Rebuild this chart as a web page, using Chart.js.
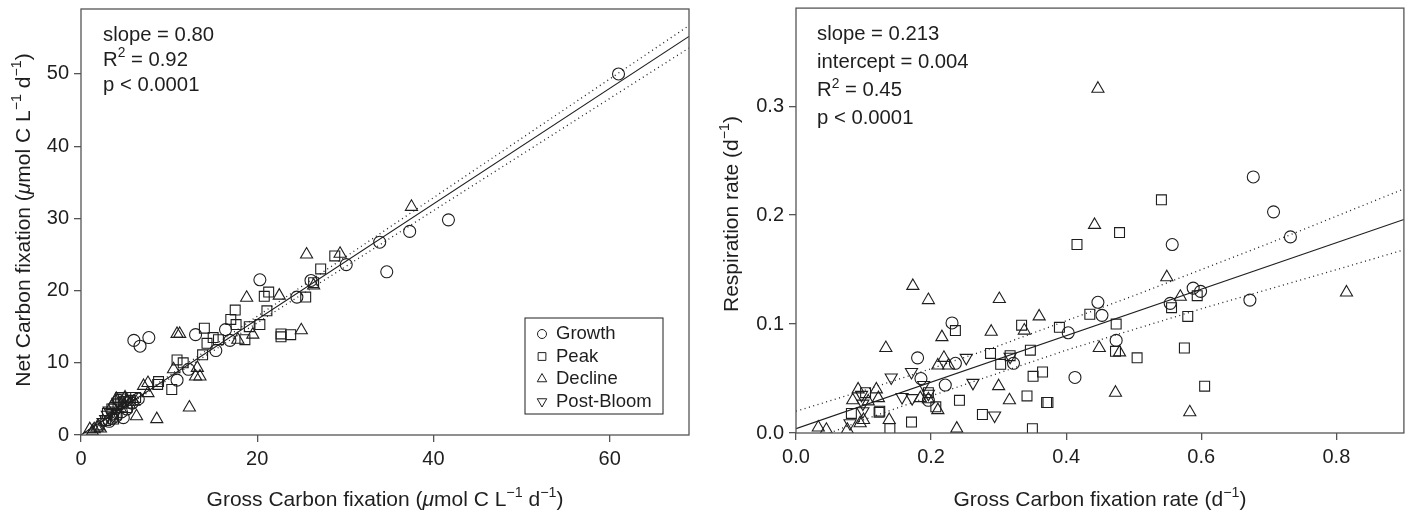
<!DOCTYPE html>
<html>
<head>
<meta charset="utf-8">
<script src="https://cdn.jsdelivr.net/npm/chart.js@4.4.1/dist/chart.umd.min.js"></script>
<style>
  body { margin: 0; background: #fff; }
  #wrap { display: flex; width: 1412px; height: 512px; }
  canvas { display: block; }
</style>
</head>
<body>
<div id="wrap">
  <canvas id="left" width="706" height="512"></canvas>
  <canvas id="right" width="706" height="512"></canvas>
</div>
<script>
// ---- left panel: net vs gross carbon fixation ----
const leftGrowth = [[61.0,50.0],[41.7,29.8],[37.3,28.2],[33.9,26.7],[34.7,22.6],[30.1,23.6],[26.1,21.4],[24.5,19.1],
  [20.3,21.5],[16.4,14.6],[16.9,13.1],[15.3,11.7],[13.0,13.9],[12.2,9.1],[10.9,7.6],[6.0,13.1],[6.7,12.3],[7.7,13.5],
  [3.5,2.3],[4.0,2.6],[4.6,3.2],[5.2,3.6],[5.8,4.4],[4.3,4.8],[6.5,5.0],[3.2,1.9],[4.8,2.4]];
const leftPeak = [[28.8,24.8],[27.2,23.0],[26.4,21.1],[25.5,19.1],[21.3,19.8],[20.8,19.2],[21.1,17.2],[17.5,17.3],
  [17.0,16.0],[17.6,15.3],[19.1,15.0],[20.3,15.3],[22.7,14.0],[22.7,13.6],[23.8,13.9],[18.6,13.2],[14.0,14.8],
  [14.3,12.7],[15.6,13.2],[15.0,13.5],[13.8,11.1],[10.9,10.4],[11.6,10.0],[10.3,6.3],[8.8,7.4],[8.7,7.0],
  [3.0,3.0],[3.5,3.6],[4.0,2.8],[4.2,4.2],[4.8,4.6],[5.2,3.8],[5.6,4.8],[6.2,5.2],[3.7,2.2],[4.5,5.2],[2.8,2.0]];
const leftDecline = [[37.5,31.6],[29.4,25.1],[25.6,25.0],[26.4,20.7],[22.5,19.3],[18.8,19.0],[25.0,14.5],[19.5,13.9],
  [17.8,13.2],[13.5,8.1],[10.9,14.0],[11.2,14.0],[13.2,9.3],[13.0,8.1],[10.5,9.1],[7.1,6.8],[7.6,7.2],[7.6,5.8],
  [6.3,2.6],[8.6,2.2],[12.3,3.8],[1.0,0.8],[1.5,0.8],[1.8,1.0],[2.2,0.9],[1.3,0.5],[2.0,1.2],[4.0,5.0],[5.0,5.2],
  [3.5,4.0],[4.5,3.6],[6.0,4.6],[5.5,4.2]];
const leftPost = [[2.5,1.8],[3.0,2.8],[3.2,3.4],[3.8,3.8],[4.2,4.6],[4.6,5.2],[5.2,4.8],[2.8,2.2],[3.6,2.6],[5.8,5.4],[4.0,3.2]];
const leftFitX = [0, 69];
const leftFitY = [0, 55.2];
const leftUpperY = [0, 56.7];
const leftLowerY = [0, 53.6];
const leftXTicks = [0, 20, 40, 60];
const leftYTicks = [0, 10, 20, 30, 40, 50];
const leftNotes = [['slope = 0.80'], ['R', '2', ' = 0.92'], ['p < 0.0001']];

// ---- right panel: respiration vs gross fixation rate ----
const rightGrowth = [[0.677,0.235],[0.707,0.203],[0.732,0.180],[0.557,0.173],[0.588,0.133],[0.599,0.130],[0.554,0.119],
  [0.672,0.122],[0.447,0.120],[0.453,0.108],[0.403,0.092],[0.474,0.085],[0.413,0.051],[0.180,0.069],[0.185,0.050],
  [0.231,0.101],[0.236,0.064],[0.221,0.044],[0.196,0.030],[0.322,0.064]];
const rightPeak = [[0.541,0.214],[0.479,0.184],[0.416,0.173],[0.435,0.109],[0.390,0.097],[0.474,0.100],[0.594,0.126],
  [0.556,0.115],[0.580,0.107],[0.473,0.075],[0.505,0.069],[0.575,0.078],[0.605,0.043],[0.371,0.028],[0.082,0.018],
  [0.103,0.037],[0.123,0.019],[0.139,0.004],[0.171,0.010],[0.196,0.037],[0.207,0.024],[0.236,0.094],[0.242,0.030],
  [0.276,0.017],[0.288,0.073],[0.303,0.063],[0.317,0.071],[0.334,0.099],[0.342,0.034],[0.347,0.076],[0.351,0.052],
  [0.365,0.056],[0.350,0.004],[0.373,0.028],[0.124,0.020]];
const rightDecline = [[0.447,0.316],[0.442,0.191],[0.549,0.143],[0.569,0.125],[0.815,0.129],[0.449,0.078],[0.479,0.074],
  [0.473,0.037],[0.583,0.019],[0.033,0.005],[0.045,0.003],[0.076,0.003],[0.084,0.030],[0.092,0.040],[0.095,0.009],
  [0.100,0.012],[0.107,0.029],[0.119,0.040],[0.122,0.032],[0.133,0.078],[0.138,0.012],[0.173,0.135],[0.196,0.122],
  [0.184,0.032],[0.196,0.031],[0.210,0.062],[0.216,0.088],[0.219,0.069],[0.226,0.062],[0.210,0.021],[0.238,0.004],
  [0.289,0.093],[0.301,0.123],[0.300,0.043],[0.316,0.030],[0.338,0.094],[0.360,0.107]];
const rightPost = [[0.080,0.009],[0.097,0.035],[0.099,0.020],[0.141,0.051],[0.157,0.033],[0.171,0.056],[0.172,0.032],
  [0.189,0.044],[0.252,0.069],[0.262,0.046],[0.294,0.016],[0.317,0.070],[0.099,0.027],[0.196,0.036]];
const rightFitX = [0, 0.9];
const rightFitY = [0.004, 0.196];
const rightBandX = [0, 0.1, 0.2, 0.3, 0.4, 0.5, 0.6, 0.7, 0.8, 0.9];
const rightUpperY = [0.020, 0.039, 0.059, 0.080, 0.103, 0.126, 0.150, 0.174, 0.199, 0.224];
const rightLowerY = [-0.012, 0.012, 0.034, 0.055, 0.076, 0.095, 0.114, 0.132, 0.150, 0.168];
const rightXTicks = [0, 0.2, 0.4, 0.6, 0.8];
const rightYTicks = [0, 0.1, 0.2, 0.3];
const rightNotes = [['slope = 0.213'], ['intercept = 0.004'], ['R', '2', ' = 0.45'], ['p < 0.0001']];

const phases = ['Growth', 'Peak', 'Decline', 'Post-Bloom'];

const FONT = '"Liberation Sans", Arial, sans-serif';
const INK = '#1e1e1e';
const AXIS = '#555';

const toPts = arr => arr.map(p => ({x: p[0], y: p[1]}));
const zipPts = (xs, ys) => xs.map((x, i) => ({x, y: ys[i]}));

const markers = [
  {pointStyle: 'circle', pointRadius: 6, rotation: 0},
  {pointStyle: 'rect', pointRadius: 7, rotation: 0},
  {pointStyle: 'triangle', pointRadius: 7, rotation: 0},
  {pointStyle: 'triangle', pointRadius: 7, rotation: 180}
];

function scatterSet(label, pts, i) {
  return {
    label, data: toPts(pts),
    pointStyle: markers[i].pointStyle, pointRadius: markers[i].pointRadius, rotation: markers[i].rotation,
    borderColor: INK, backgroundColor: 'rgba(0,0,0,0)', pointBorderWidth: 1.1, showLine: false
  };
}
function lineSet(pts, dotted) {
  return {
    label: '', data: pts, showLine: true, pointRadius: 0, borderColor: INK,
    borderWidth: dotted ? 1.3 : 1.1, borderDash: dotted ? [1, 3.5] : [], tension: 0
  };
}

// text made of pieces: plain, italic or superscript
function drawRuns(ctx, runs, x, y, size, align) {
  const fontOf = r => (r.it ? 'italic ' : '') + (r.sup ? size * 0.68 : size) + 'px ' + FONT;
  let total = 0;
  runs.forEach(r => { ctx.font = fontOf(r); total += ctx.measureText(r.t).width; });
  let cx = align === 'center' ? x - total / 2 : x;
  ctx.textAlign = 'left';
  runs.forEach(r => {
    ctx.font = fontOf(r);
    ctx.fillText(r.t, cx, r.sup ? y - size * 0.42 : y);
    cx += ctx.measureText(r.t).width;
  });
}

const panelPlugin = {
  id: 'panel',
  afterDraw(chart, args, o) {
    const {ctx, chartArea: a} = chart;
    ctx.save();
    ctx.strokeStyle = AXIS;
    ctx.lineWidth = 1.3;
    ctx.strokeRect(a.left, a.top, a.right - a.left, a.bottom - a.top);
    ctx.fillStyle = INK;
    ctx.textBaseline = 'alphabetic';
    o.notes.forEach((n, i) => {
      const runs = n.length === 1 ? [{t: n[0]}] : [{t: n[0]}, {t: n[1], sup: true}, {t: n[2]}];
      drawRuns(ctx, runs, a.left + o.noteX, a.top + o.noteY + i * o.noteGap, 20.3, 'left');
    });
    drawRuns(ctx, o.xTitle, (a.left + a.right) / 2, o.xTitleY, 21, 'center');
    ctx.translate(o.yTitleX, o.yTitleMid);
    ctx.rotate(-Math.PI / 2);
    drawRuns(ctx, o.yTitle, 0, 0, 21, 'center');
    ctx.restore();
    if (o.legend) {
      const L = o.legend;
      ctx.save();
      ctx.strokeStyle = INK;
      ctx.lineWidth = 1;
      ctx.strokeRect(L.x, L.y, L.w, L.h);
      ctx.font = '18.5px ' + FONT;
      ctx.textBaseline = 'middle';
      const sets = chart.data.datasets.filter(d => phases.includes(d.label));
      sets.forEach((d, i) => {
        const cy = L.y + 16 + i * 22.5;
        ctx.fillStyle = 'rgba(0,0,0,0)';
        ctx.strokeStyle = INK;
        Chart.helpers.drawPoint(ctx, {pointStyle: d.pointStyle, radius: d.pointStyle === 'circle' ? 4.5 : 5.5,
          rotation: d.rotation, borderWidth: 1}, L.x + 17, cy);
        ctx.fillStyle = INK;
        ctx.textAlign = 'left';
        ctx.fillText(d.label, L.x + 31, cy);
      });
      ctx.restore();
    }
  }
};

function axisOpts(min, max, ticks, fmt, fitFn) {
  return {
    type: 'linear', min, max,
    afterBuildTicks: s => { s.ticks = ticks.map(v => ({value: v})); },
    afterFit: fitFn,
    grid: {display: true, drawOnChartArea: false, drawTicks: true, tickLength: 7, color: AXIS, lineWidth: 1.3},
    border: {display: false},
    ticks: {font: {family: FONT, size: 20}, color: INK, padding: 5, maxRotation: 0, autoSkip: false, callback: fmt}
  };
}
const fitX = h => s => { s.height = h; s.paddingLeft = 0; s.paddingRight = 0; };
const fitY = w => s => { s.width = w; s.paddingTop = 0; s.paddingBottom = 0; };

new Chart(document.getElementById('left'), {
  type: 'scatter',
  data: {
    datasets: [
      lineSet(zipPts(leftFitX, leftFitY), false),
      lineSet(zipPts(leftFitX, leftUpperY), true),
      lineSet(zipPts(leftFitX, leftLowerY), true),
      scatterSet(phases[0], leftGrowth, 0),
      scatterSet(phases[1], leftPeak, 1),
      scatterSet(phases[2], leftDecline, 2),
      scatterSet(phases[3], leftPost, 3)
    ]
  },
  options: {
    responsive: false, animation: false,
    layout: {padding: {top: 9, right: 17, left: 0, bottom: 0}},
    plugins: {
      legend: {display: false}, tooltip: {enabled: false},
      panel: {
        notes: leftNotes, noteX: 22, noteY: 31.5, noteGap: 25,
        xTitle: [{t: 'Gross Carbon fixation ('}, {t: 'μ', it: true}, {t: 'mol C L'}, {t: '−1', sup: true}, {t: ' d'}, {t: '−1', sup: true}, {t: ')'}],
        xTitleY: 506,
        yTitle: [{t: 'Net Carbon fixation ('}, {t: 'μ', it: true}, {t: 'mol C L'}, {t: '−1', sup: true}, {t: ' d'}, {t: '−1', sup: true}, {t: ')'}],
        yTitleX: 29.5, yTitleMid: 220,
        legend: {x: 525, y: 318, w: 138, h: 96}
      }
    },
    scales: {
      x: axisOpts(0, 69, leftXTicks, v => String(v), fitX(77)),
      y: axisOpts(0, 59, leftYTicks, v => String(v), fitY(81))
    }
  },
  plugins: [panelPlugin]
});

new Chart(document.getElementById('right'), {
  type: 'scatter',
  data: {
    datasets: [
      lineSet(zipPts(rightFitX, rightFitY), false),
      lineSet(zipPts(rightBandX, rightUpperY), true),
      lineSet(zipPts(rightBandX, rightLowerY), true),
      scatterSet(phases[0], rightGrowth, 0),
      scatterSet(phases[1], rightPeak, 1),
      scatterSet(phases[2], rightDecline, 2),
      scatterSet(phases[3], rightPost, 3)
    ]
  },
  options: {
    responsive: false, animation: false,
    layout: {padding: {top: 7, right: 5, left: 0, bottom: 0}},
    plugins: {
      legend: {display: false}, tooltip: {enabled: false},
      panel: {
        notes: rightNotes, noteX: 21, noteY: 32, noteGap: 28,
        xTitle: [{t: 'Gross Carbon fixation rate (d'}, {t: '−1', sup: true}, {t: ')'}],
        xTitleY: 506,
        yTitle: [{t: 'Respiration rate (d'}, {t: '−1', sup: true}, {t: ')'}],
        yTitleX: 32, yTitleMid: 214
      }
    },
    scales: {
      x: axisOpts(0, 0.9, rightXTicks, v => v.toFixed(1), fitX(79)),
      y: axisOpts(0, 0.39, rightYTicks, v => v.toFixed(1), fitY(90))
    }
  },
  plugins: [panelPlugin]
});
</script>
</body>
</html>
